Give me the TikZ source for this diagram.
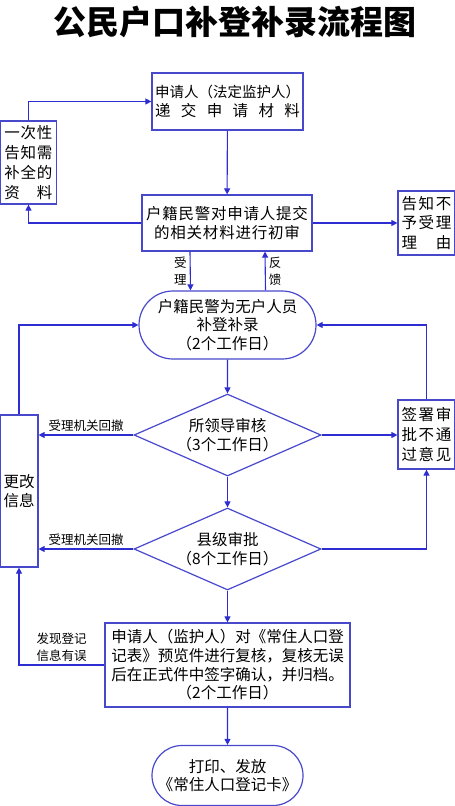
\documentclass[tikz,border=0pt]{standalone}
\usepackage{fontspec}
\setmainfont{Noto Sans CJK SC}
\usetikzlibrary{arrows.meta,positioning,shapes.geometric,shapes.misc}
\definecolor{edge}{RGB}{72,72,205}
\definecolor{wire}{RGB}{45,45,210}
\tikzset{
  >={Triangle[length=6pt,width=6pt]},
  box/.style={draw=edge,line width=1.2pt,fill=white,inner sep=0pt,align=center,
    font=\fontsize{15.5}{18.7}\selectfont},
  tall/.style={box,font=\fontsize{15.5}{19.8}\selectfont},
  pill/.style={box,rounded rectangle},
  check/.style={box,diamond,aspect=2.28},
  flow/.style={->,line width=1.1pt,draw=wire},
  note/.style={font=\fontsize{12.5}{17}\selectfont,inner sep=0pt,align=center},
}
\newcommand\spreadrow[2]{\makebox[#1][s]{#2}}

\begin{document}
\begin{tikzpicture}[x=1pt,y=-1pt]
  \useasboundingbox (0,0) rectangle (455,806);
  % title
  \node[font=\fontsize{33}{33}\selectfont\bfseries,inner sep=0pt] (title) at (227.5,22)
    {\spreadrow{349pt}{公\hfill 民\hfill 户\hfill 口\hfill 补\hfill 登\hfill 补\hfill 录\hfill 流\hfill 程\hfill 图}};

  % first stage
  \node[box,minimum width=151pt,minimum height=57pt] (apply) at (227.5,101.5)
    {{\fontsize{14.5}{18.7}\selectfont 申请人（法定监护人）}\\
     \spreadrow{145pt}{递\hfill 交\hfill 申\hfill 请\hfill 材\hfill 料}};
  \node[tall,minimum width=56pt,minimum height=83pt] (notify) at (28.5,162.5)
    {\spreadrow{48pt}{一\hfill 次\hfill 性}\\\spreadrow{48pt}{告\hfill 知\hfill 需}\\
     \spreadrow{48pt}{补\hfill 全\hfill 的}\\\spreadrow{48pt}{资\hfill 料}};
  \node[box,minimum width=170pt,minimum height=56pt,
    font=\fontsize{15.5}{18.7}\selectfont\addfontfeature{LetterSpace=5}] (inspect) at (227,223)
    {户籍民警对申请人提交\\的相关材料进行初审};
  \node[tall,minimum width=57pt,minimum height=64pt] (reject) at (426.5,223)
    {\spreadrow{50pt}{告\hfill 知\hfill 不}\\\spreadrow{50pt}{予\hfill 受\hfill 理}\\
     \spreadrow{50pt}{理\hfill 由}};

  % registration and approval
  \node[pill,minimum width=177pt,minimum height=68pt] (record) at (227.5,325)
    {户籍民警为无户人员\\补登补录\\（2个工作日）};
  \node[check,minimum width=187pt,minimum height=82pt] (leader) at (227.5,435)
    {所领导审核\\（3个工作日）};
  \node[check,minimum width=187pt,minimum height=82pt] (county) at (227.5,549)
    {县级审批\\（8个工作日）};
  \node[box,minimum width=38pt,minimum height=152pt] (modify) at (19,491) {更改\\信息};
  \node[tall,minimum width=57pt,minimum height=69pt] (veto) at (426.5,434.5)
    {\spreadrow{50pt}{签\hfill 署\hfill 审}\\\spreadrow{50pt}{批\hfill 不\hfill 通}\\
     \spreadrow{50pt}{过\hfill 意\hfill 见}};

  % last stage
  \node[box,minimum width=245pt,minimum height=84pt] (review) at (227.5,665)
    {申请人（监护人）对《常住人口登\\记表》预览件进行复核，复核无误\\
     后在正式件中签字确认，并归档。\\（2个工作日）};
  \node[pill,minimum width=151pt,minimum height=60pt] (issue) at (227.5,775.5)
    {打印、发放\\《常住人口登记卡》};

  % connectors
  \draw[flow] (apply) -- (inspect);
  \draw[flow] (notify.north) |- (apply.west);
  \draw[flow] (inspect.west) -| (notify.south);
  \draw[flow] (inspect.east) -- (reject.west);
  \draw[flow] ([xshift=-37pt]inspect.south) -- ([xshift=-37pt]record.north)
    node[note,midway,left=3pt] (accept) {受\\理};
  \draw[flow] ([xshift=38pt]record.north) -- ([xshift=38pt]inspect.south)
    node[note,midway,right=3pt] (feedback) {反\\馈};
  \draw[flow] (record) -- (leader);
  \draw[flow] (leader) -- (county);
  \draw[flow] (leader.west) -- (leader.west -| modify.east)
    node[note,midway,above=3pt] (back1) {受理机关回撤};
  \draw[flow] (county.west) -- (county.west -| modify.east)
    node[note,midway,above=3pt] (back2) {受理机关回撤};
  \draw[flow] (leader.east) -- (leader.east -| veto.west);
  \draw[flow] (county.east) -| (veto.south);
  \draw[flow] (veto.north) |- (record.east);
  \draw[flow] (modify.north) |- (record.west);
  \draw[flow] (county) -- (review);
  \draw[flow] (review.west) -| (modify.south)
    node[note,pos=0.25,above=3pt] (wrong) {发现登记\\信息有误};
  \draw[flow] (review) -- (issue);
\end{tikzpicture}
\end{document}
